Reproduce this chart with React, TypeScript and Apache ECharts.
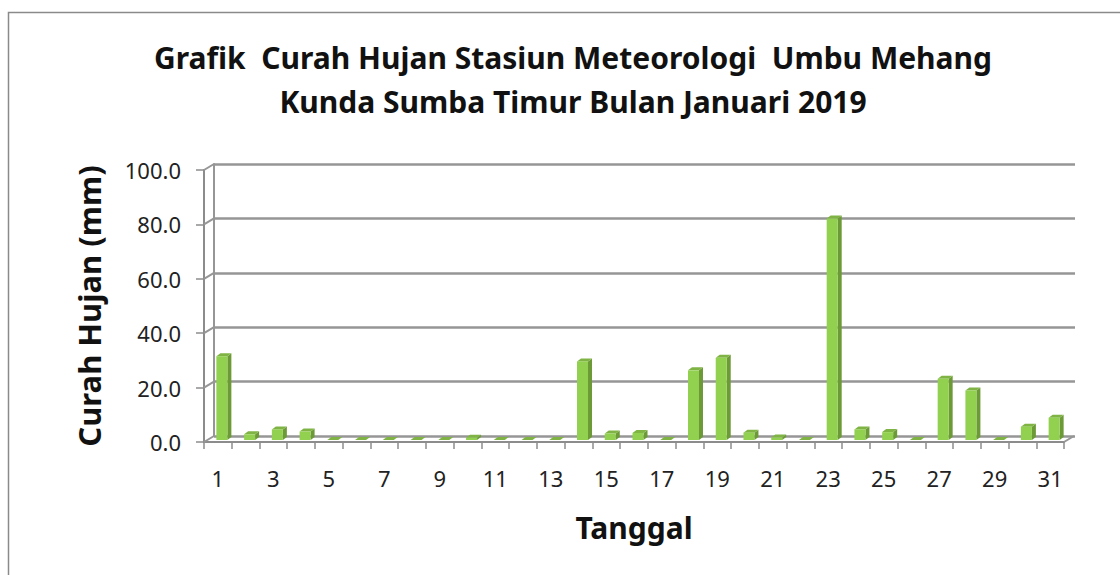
import React, { useEffect, useRef } from "react";
import * as echarts from "echarts";

const categories = [
  "1", "2", "3", "4", "5", "6", "7", "8", "9", "10", "11", "12", "13", "14", "15", "16",
  "17", "18", "19", "20", "21", "22", "23", "24", "25", "26", "27", "28", "29", "30", "31",
];
const rainfall = [
  30.8, 2.1, 3.9, 3.1, 0, 0, 0, 0, 0, 0.8, 0, 0, 0, 28.9, 2.4, 2.6,
  0, 25.6, 30.2, 2.7, 0.9, 0, 81.4, 3.9, 2.9, 0, 22.5, 18.2, 0, 4.9, 8.2,
];
const yTicks = [0, 20, 40, 60, 80, 100];

const titleText = "Grafik  Curah Hujan Stasiun Meteorologi  Umbu Mehang\nKunda Sumba Timur Bulan Januari 2019";
const xName = "Tanggal";
const yName = "Curah Hujan (mm)";

const FONT = "'Noto Sans', 'Open Sans', sans-serif";
const DX = 10;
const DY = -6;

export default function App() {
  const ref = useRef<HTMLDivElement>(null);
  useEffect(() => {
    if (!ref.current) return;
    const chart = echarts.init(ref.current, null, { renderer: "svg" });
    const option: any = {
      animation: false,
      backgroundColor: "#ffffff",
      title: {
        text: titleText,
        left: 568,
        top: 30,
        textAlign: "center",
        textStyle: {
          fontFamily: FONT,
          fontSize: 30,
          fontWeight: "bold",
          color: "#111",
          lineHeight: 44,
        },
      },
      graphic: [
        {
          type: "rect",
          shape: { x: 8.5, y: 12.5, width: 1300, height: 800 },
          style: { fill: "none", stroke: "#8a8a8a", lineWidth: 1.5 },
          silent: true,
          z: -10,
        },
      ],
      grid: [
        { left: 204, right: 56, top: 170, bottom: 133, containLabel: false },
        { left: 204 + DX, right: 56 - DX - 1, top: 170 + DY, bottom: 133 - DY, containLabel: false },
      ],
      xAxis: [
        {
          type: "category",
          gridIndex: 0,
          data: categories,
          boundaryGap: true,
          axisLine: { show: true, lineStyle: { color: "#8c8c8c", width: 2 } },
          axisTick: { show: true, interval: 0, length: 7, lineStyle: { color: "#8c8c8c", width: 1.5 } },
          axisLabel: {
            interval: 1,
            fontFamily: FONT,
            fontSize: 22,
            color: "#222",
            margin: 25,
          },
          name: xName,
          nameLocation: "middle",
          nameGap: 70,
          nameTextStyle: { fontFamily: FONT, fontSize: 30, fontWeight: "bold", color: "#111" },
        },
        {
          type: "category",
          gridIndex: 1,
          data: categories,
          show: false,
        },
      ],
      yAxis: [
        {
          type: "value",
          gridIndex: 0,
          min: 0,
          max: 100,
          interval: 20,
          axisLine: { show: true, lineStyle: { color: "#8c8c8c", width: 2 } },
          axisTick: { show: true, length: 8, lineStyle: { color: "#8c8c8c", width: 1.5 } },
          splitLine: { show: false },
          axisLabel: {
            fontFamily: FONT,
            fontSize: 22,
            color: "#222",
            margin: 23,
            formatter: (v: number) => v.toFixed(1),
          },
          name: yName,
          nameLocation: "middle",
          nameGap: 100,
          nameRotate: 90,
          nameTextStyle: { fontFamily: FONT, fontSize: 31, fontWeight: "bold", color: "#111" },
        },
        {
          type: "value",
          gridIndex: 1,
          min: 0,
          max: 100,
          interval: 20,
          axisLine: { show: true, lineStyle: { color: "#969696", width: 2 } },
          axisTick: { show: false },
          axisLabel: { show: false },
          splitLine: { show: true, lineStyle: { color: "#969696", width: 2.5 } },
        },
      ],
      series: [
        {
          type: "custom",
          xAxisIndex: 0,
          yAxisIndex: 0,
          data: yTicks.map((v) => [0, v]),
          z: 1,
          silent: true,
          renderItem: (params: any, api: any) => {
            const v = api.value(1);
            const cs = params.coordSys;
            const y = api.coord([0, v])[1];
            const children: any[] = [
              {
                type: "line",
                shape: { x1: cs.x, y1: y, x2: cs.x + DX, y2: y + DY },
                style: { stroke: "#969696", lineWidth: 2 },
              },
            ];
            if (v === 0) {
              children.push({
                type: "line",
                shape: { x1: cs.x + cs.width, y1: y, x2: cs.x + cs.width + DX, y2: y + DY },
                style: { stroke: "#969696", lineWidth: 2 },
              });
            }
            return { type: "group", children };
          },
        },
        {
          type: "custom",
          name: "Curah Hujan",
          xAxisIndex: 0,
          yAxisIndex: 0,
          data: rainfall.map((v, i) => [i, v]),
          z: 5,
          renderItem: (params: any, api: any) => {
            const idx = api.value(0);
            const val = api.value(1);
            const top = api.coord([idx, val]);
            const base = api.coord([idx, 0]);
            const w = 11;
            const d = 4;
            const dd = -3;
            const x = top[0] - w / 2 + 4;
            const yT = top[1] - 2;
            const yB = base[1] - 2;
            return {
              type: "group",
              children: [
                {
                  type: "polygon",
                  shape: { points: [[x + w, yT], [x + w + d, yT + dd], [x + w + d, yB + dd], [x + w, yB]] },
                  style: { fill: "#6c9a36" },
                },
                {
                  type: "polygon",
                  shape: { points: [[x, yT], [x + d, yT + dd], [x + w + d, yT + dd], [x + w, yT]] },
                  style: { fill: "#7fb444" },
                },
                {
                  type: "rect",
                  shape: { x, y: yT, width: w, height: Math.max(yB - yT, 0) },
                  style: { fill: "#92d050" },
                },
              ],
            };
          },
        },
      ],
    };
    chart.setOption(option);
    return () => chart.dispose();
  }, []);
  return (
    <div
      ref={ref}
      style={{ position: "fixed", left: 0, top: 0, width: 1120, height: 575, background: "#fff" }}
    />
  );
}
